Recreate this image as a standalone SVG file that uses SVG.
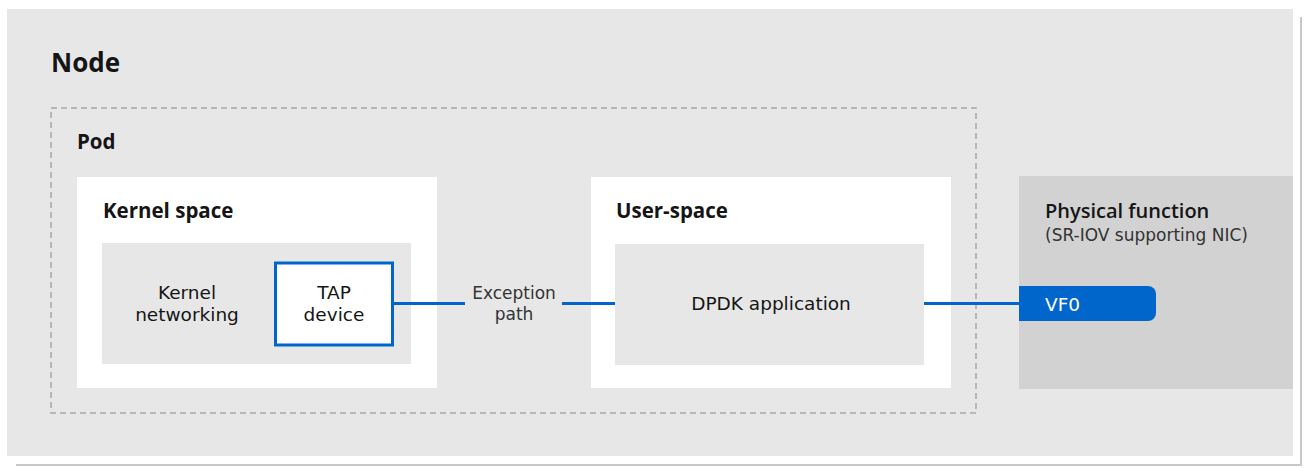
<svg xmlns="http://www.w3.org/2000/svg" width="1310" height="468" viewBox="0 0 1310 468">
<style>
text{font-family:"DejaVu Sans","Liberation Sans",Arial,sans-serif;fill:#151515}
.b{font-family:"Open Sans","Liberation Sans",Arial,sans-serif;font-weight:bold}
.h{font-family:"Open Sans","Liberation Sans",Arial,sans-serif;font-size:20.5px;font-weight:bold}
.pf{font-family:"Open Sans","Liberation Sans",Arial,sans-serif;font-size:20px;font-weight:600}
.t{font-size:18.5px}
.s{font-size:17px;fill:#333}
.box{fill:#ffffff}
.inner{fill:#e7e7e7}
.conn{stroke:#0066cc;stroke-width:3;fill:none}
</style>
<rect x="0" y="0" width="1310" height="468" fill="#ffffff"/>
<g id="frame">
<line x1="1301" y1="17" x2="1301" y2="466" stroke="#c8c8c8" stroke-width="2"/>
<line x1="16" y1="465" x2="1301" y2="465" stroke="#c8c8c8" stroke-width="2"/>
</g>
<g id="node">
<rect x="7" y="9" width="1286" height="447" fill="#e7e7e7"/>
<text x="51" y="72" class="b" font-size="26">Node</text>
</g>
<g id="pod">
<rect x="51" y="108" width="925" height="305" fill="none" stroke="#a8a8a8" stroke-width="1.5" stroke-dasharray="6,4"/>
<text x="77" y="149" class="h">Pod</text>
</g>
<g id="kernel-space">
<rect x="77" y="177" width="360" height="211" class="box"/>
<text x="103" y="218" class="h">Kernel space</text>
</g>
<g id="kernel-networking">
<rect x="102" y="243" width="309" height="121" class="inner"/>
<text x="187" y="299" class="t" text-anchor="middle">Kernel</text>
<text x="187" y="321" class="t" text-anchor="middle">networking</text>
</g>
<g id="tap-device">
<rect x="275.5" y="263" width="117" height="82" fill="#ffffff" stroke="#0066cc" stroke-width="3"/>
<text x="334" y="299" class="t" text-anchor="middle">TAP</text>
<text x="334" y="321" class="t" text-anchor="middle">device</text>
</g>
<g id="user-space">
<rect x="591" y="177" width="360" height="211" class="box"/>
<text x="616" y="218" class="h">User-space</text>
</g>
<g id="dpdk">
<rect x="615" y="244" width="309" height="121" class="inner"/>
<text x="771" y="310" class="t" text-anchor="middle">DPDK application</text>
</g>
<g id="physical-function">
<rect x="1019" y="176" width="274" height="213" fill="#d2d2d2"/>
<text x="1045" y="218" class="pf">Physical function</text>
<text x="1045" y="241" class="s">(SR-IOV supporting NIC)</text>
</g>
<g id="vf0">
<path d="M1019 286 H1148 A8 8 0 0 1 1156 294 V313 A8 8 0 0 1 1148 321 H1019 Z" fill="#0066cc"/>
<text x="1045" y="311" class="t" style="fill:#ffffff">VF0</text>
</g>
<g id="connectors">
<line x1="393" y1="303.5" x2="465" y2="303.5" class="conn"/>
<line x1="562" y1="303.5" x2="615" y2="303.5" class="conn"/>
<line x1="924" y1="303.5" x2="1019" y2="303.5" class="conn"/>
<text x="514" y="299" class="s" text-anchor="middle">Exception</text>
<text x="514" y="320" class="s" text-anchor="middle">path</text>
</g>
</svg>
